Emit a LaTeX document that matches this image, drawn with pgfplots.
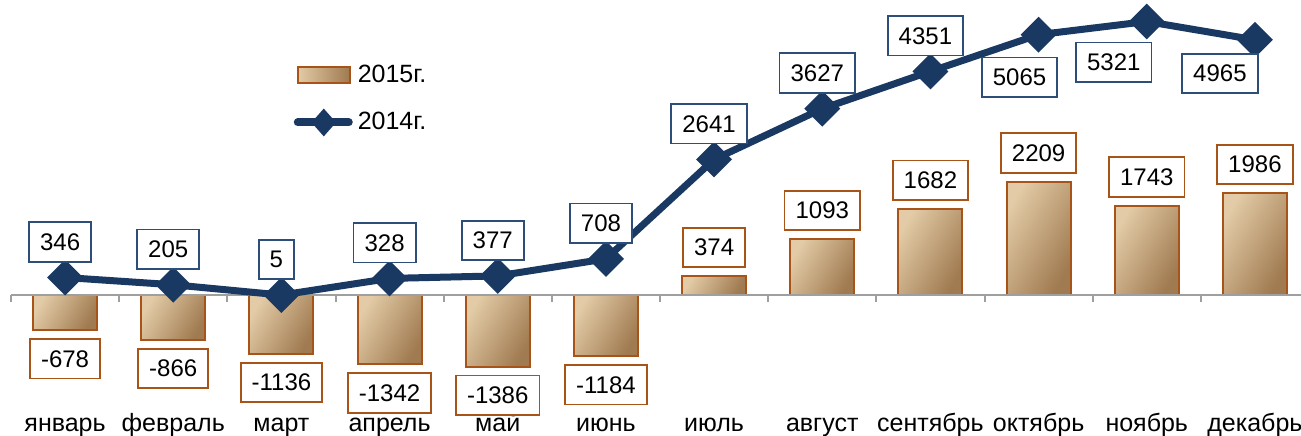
\documentclass[border=0pt]{standalone}
\usepackage{fontspec}
\setmainfont{Liberation Sans}
\usepackage{pgfplots}
\pgfplotsset{compat=1.18}

\definecolor{navy}{RGB}{26,57,98}
\definecolor{navybox}{RGB}{45,78,120}
\definecolor{brownb}{RGB}{168,84,24}
\definecolor{sandL}{RGB}{226,203,166}
\definecolor{sandM}{RGB}{208,176,132}
\definecolor{sandD}{RGB}{160,122,80}

\tikzset{
  lbl/.style={font=\fontsize{12}{14}\selectfont, text=black, fill=white,
    line width=0.9pt, inner xsep=5.5pt, inner ysep=5.6pt},
}
\pgfplotsset{
  sandbar/.style={ybar, bar width=32pt, bar shift=0pt, draw=brownb, line width=1pt,
    shading=axis, left color=sandL, middle color=sandM, right color=sandD,
    shading angle=60, forget plot},
}

\begin{document}
\begin{tikzpicture}[font=\fontsize{12.5}{14}\selectfont]
\begin{axis}[
  scale only axis, width=650.5pt, height=218pt,
  xmin=-0.6017, xmax=11.426, ymin=-2734, ymax=5739,
  axis line style={draw=none},
  ytick=\empty,
  xtick={0,...,11},
  xticklabels={январь,февраль,март,апрель,май,июнь,июль,август,сентябрь,октябрь,ноябрь,декабрь},
  major tick length=0pt,
  xticklabel style={anchor=base, inner sep=0pt, yshift=2pt, font=\fontsize{12.5}{14}\selectfont},
  /pgf/number format/.cd, 1000 sep={}, assume math mode=true, /pgfplots/.cd,
  clip=false,
  legend style={at={(0.2255,0.852)}, anchor=north west, draw=none, fill=none,
    row sep=12.5pt, inner sep=0pt, nodes={inner sep=0pt},
    font=\fontsize{12.5}{14}\selectfont,
    /tikz/every odd column/.append style={column sep=2.5pt}},
  legend cell align=left,
]

% 2015 bars, one per month
\addplot[sandbar, forget plot=false,
  legend image code/.code={\path[draw=brownb, line width=1pt, left color=sandL, right color=sandD]
    (2pt,-4pt) rectangle (28pt,4pt);}]
  coordinates {(0,-678)};
\addlegendentry{2015г.}
\addplot[sandbar] coordinates {(1,-866)};
\addplot[sandbar] coordinates {(2,-1136)};
\addplot[sandbar] coordinates {(3,-1342)};
\addplot[sandbar] coordinates {(4,-1386)};
\addplot[sandbar] coordinates {(5,-1184)};
\addplot[sandbar] coordinates {(6,374)};
\addplot[sandbar] coordinates {(7,1093)};
\addplot[sandbar] coordinates {(8,1682)};
\addplot[sandbar] coordinates {(9,2209)};
\addplot[sandbar] coordinates {(10,1743)};
\addplot[sandbar] coordinates {(11,1986)};

% zero line
\addplot[gray!75, line width=1pt, forget plot] coordinates {(-0.5,0) (11.6,0)};
\pgfplotsinvokeforeach{-0.5,0.5,...,11.5}{
  \draw[gray!75, line width=1pt] (axis cs:#1,0) -- ++(0pt,-3.5pt);
}

% 2014 line
\addplot[navy, line width=3.5pt, mark=square*, mark size=4.6pt,
  mark options={rotate=45, solid},
  legend image code/.code={\draw[navy, line width=4pt, line cap=round] (2pt,0pt) -- (27.5pt,0pt);
    \path[fill=navy] (15pt,0pt) ++(0,-4.3pt) -- ++(3.8pt,4.3pt) -- ++(-3.8pt,4.3pt) -- ++(-3.8pt,-4.3pt) -- cycle;}]
coordinates {(0,346) (1,205) (2,5) (3,328) (4,377) (5,708) (6,2641) (7,3627)
  (8,4351) (9,5065) (10,5321) (11,4965)};
\addlegendentry{2014г.}

% labels of the bars
\addplot[draw=none, forget plot, nodes near coords,
  nodes near coords style={lbl, draw=brownb, anchor=north, yshift=-4pt}]
coordinates {(0,-678) (1,-866) (2,-1136) (3,-1342) (4,-1386) (5,-1184)};
\addplot[draw=none, forget plot, nodes near coords,
  nodes near coords style={lbl, draw=brownb, anchor=south, yshift=4pt}]
coordinates {(6,374) (7,1093) (8,1682) (9,2209) (10,1743) (11,1986)};

% labels of the line
\addplot[draw=none, forget plot, nodes near coords,
  nodes near coords style={lbl, draw=navybox, anchor=south, yshift=7.5pt, xshift=-2.5pt}]
coordinates {(0,346) (1,205) (2,5) (3,328) (4,377) (5,708) (6,2641) (7,3627) (8,4351)};
\addplot[draw=none, forget plot, nodes near coords,
  nodes near coords style={lbl, draw=navybox, anchor=north, yshift=-11pt, xshift=-9.5pt}]
coordinates {(9,5065)};
\addplot[draw=none, forget plot, nodes near coords,
  nodes near coords style={lbl, draw=navybox, anchor=north, yshift=-10pt, xshift=-16.5pt}]
coordinates {(10,5321)};
\addplot[draw=none, forget plot, nodes near coords,
  nodes near coords style={lbl, draw=navybox, anchor=north, yshift=-6.5pt, xshift=-17.5pt}]
coordinates {(11,4965)};
\end{axis}
\pgfresetboundingbox
\path (current axis.south west) rectangle (current axis.north east);
\end{tikzpicture}
\end{document}
